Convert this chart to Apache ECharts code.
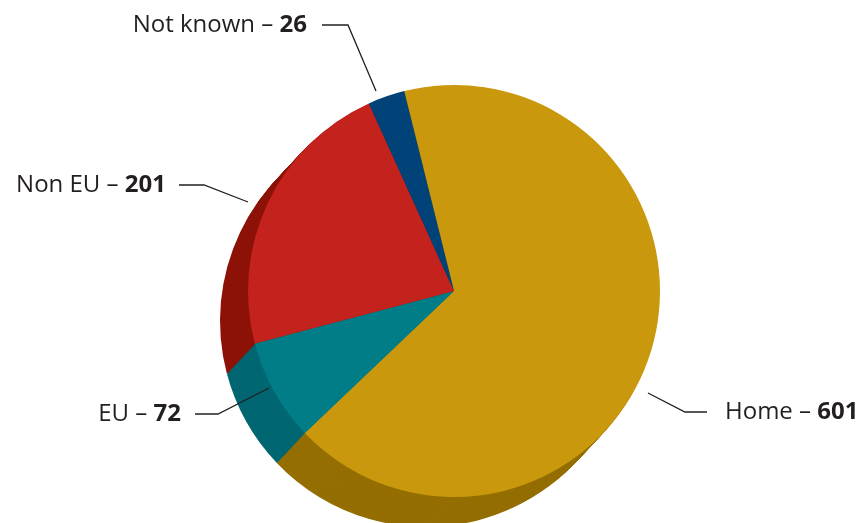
<!DOCTYPE html>
<html>
<head>
<meta charset="utf-8">
<script src="https://cdn.jsdelivr.net/npm/echarts@6/dist/echarts.min.js"></script>
<style>
  html, body { margin: 0; padding: 0; background: #fff; }
  #chart { width: 862px; height: 523px; }
</style>
</head>
<body>
<div id="chart"></div>
<script>
// Origin of respondents
const categories = ['Home', 'EU', 'Non EU', 'Not known'];
const counts = [601, 72, 201, 26];

// Face and wall colours for each slice
const topColors = ['#c9980c', '#017d88', '#c3221d', '#014378'];
const sideColors = ['#946e00', '#006671', '#8d1207', '#012e55'];

// Pie geometry and extrusion (wall drops down-left)
const CX = 454, CY = 291, R = 206;
const DEPTH_X = -28, DEPTH_Y = 30, STEPS = 30;
const START = 104;

// Label placement: text anchor, elbow and where the leader meets the pie
const labelSpots = [
  { x: 725, y: 412, align: 'left',  line: [[707, 412], [685, 412], [648, 393]] },
  { x: 181, y: 414, align: 'right', line: [[195, 414], [218, 414], [269, 388]] },
  { x: 166, y: 185, align: 'right', line: [[179, 185], [204, 185], [248, 202]] },
  { x: 307, y: 25,  align: 'right', line: [[322, 25], [348, 25], [376, 91]] }
];

const series = [];

// Stacked copies of the pie in darker shades build the side wall
for (let i = STEPS; i >= 1; i--) {
  const t = i / STEPS;
  series.push({
    type: 'pie',
    silent: true,
    animation: false,
    startAngle: START,
    clockwise: true,
    radius: [0, R],
    center: [CX + DEPTH_X * t, CY + DEPTH_Y * t],
    label: { show: false },
    labelLine: { show: false },
    itemStyle: { borderWidth: 0 },
    data: categories.map((name, k) => ({
      name, value: counts[k], itemStyle: { color: sideColors[k] }
    })),
    z: 1
  });
}

// Top face with labels
series.push({
  type: 'pie',
  animation: false,
  startAngle: START,
  clockwise: true,
  radius: [0, R],
  center: [CX, CY],
  avoidLabelOverlap: false,
  itemStyle: { borderWidth: 0 },
  label: {
    show: true,
    position: 'outside',
    fontFamily: 'Open Sans',
    fontSize: 24,
    color: '#231f20',
    formatter: p => `{n|${p.name} – }{v|${p.value}}`,
    rich: {
      n: { fontFamily: 'Open Sans', fontSize: 24, color: '#231f20', fontWeight: 'normal' },
      v: { fontFamily: 'Open Sans', fontSize: 24, color: '#231f20', fontWeight: 'bold' }
    }
  },
  labelLine: { show: true, lineStyle: { color: '#231f20', width: 1.3 } },
  labelLayout: p => {
    const s = labelSpots[p.dataIndex];
    return {
      x: s.x, y: s.y, align: s.align, verticalAlign: 'middle',
      labelLinePoints: [s.line[2], s.line[1], s.line[0]]
    };
  },
  data: categories.map((name, k) => ({
    name, value: counts[k], itemStyle: { color: topColors[k] }
  })),
  z: 2
});

const chart = echarts.init(document.getElementById('chart'), null, { renderer: 'canvas' });
chart.setOption({ backgroundColor: '#ffffff', series });
</script>
</body>
</html>
